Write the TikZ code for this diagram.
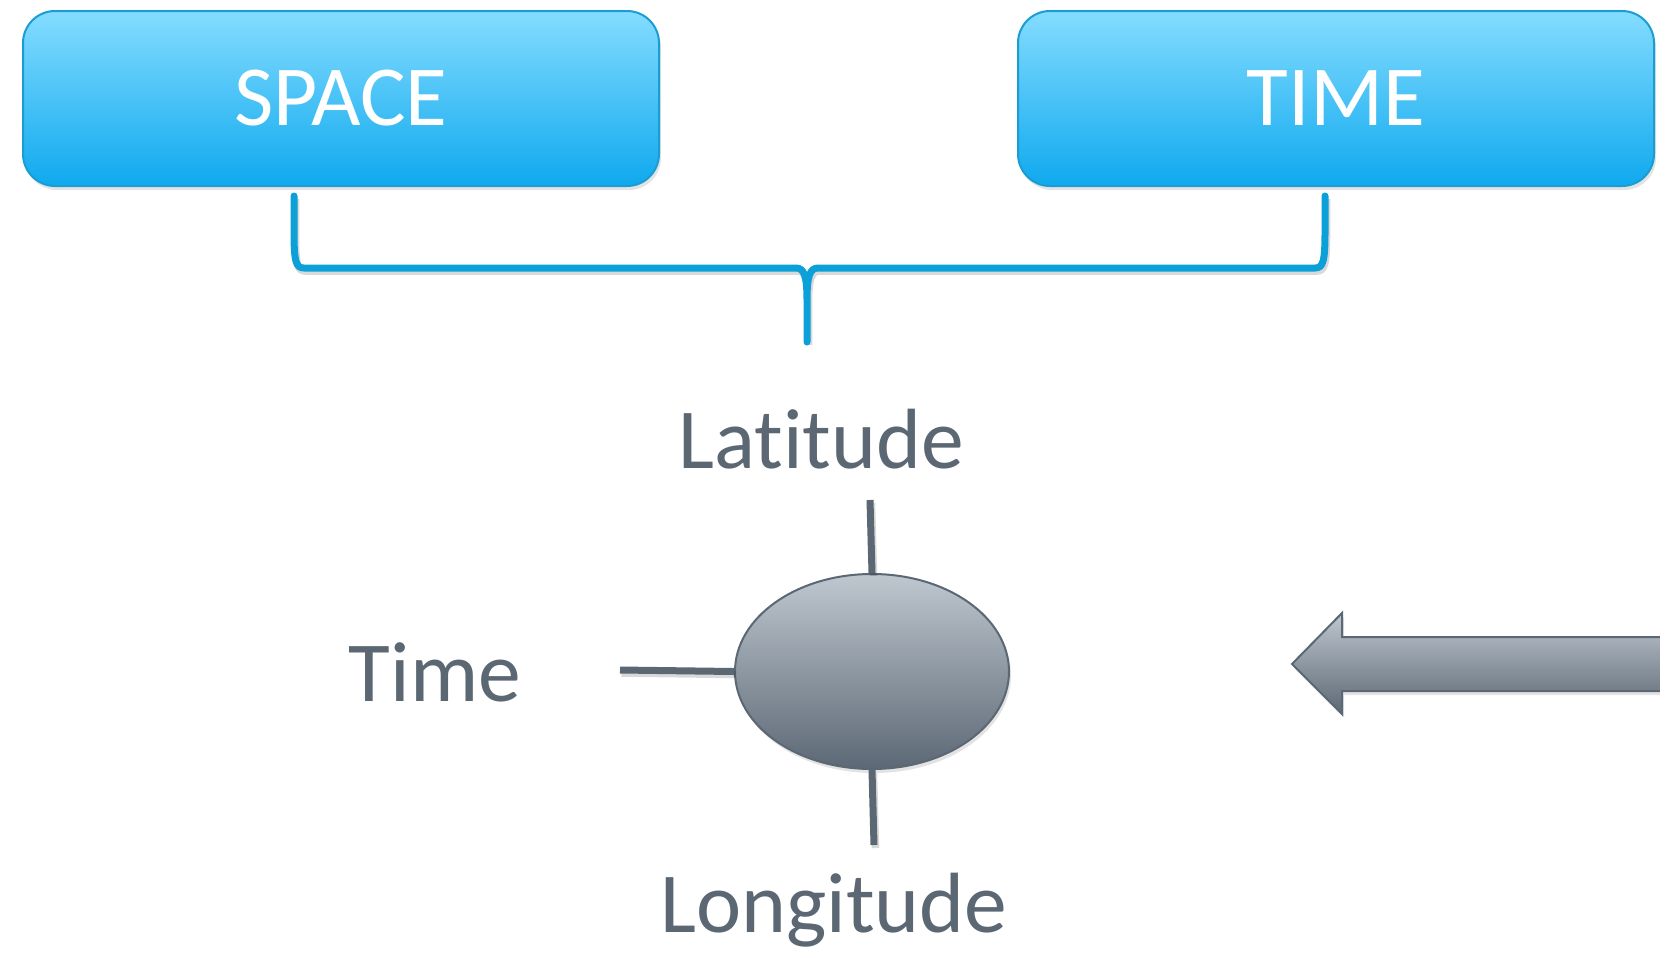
\documentclass[tikz,border=0pt]{standalone}
\usepackage{fontspec}
\setmainfont{Carlito}[Ligatures=NoCommon]
\usetikzlibrary{shapes.geometric,shadows}

\definecolor{boxtop}{HTML}{84DCFF}
\definecolor{boxbot}{HTML}{0FA9EE}
\definecolor{boxedge}{HTML}{1A9DD2}
\definecolor{bracecol}{HTML}{0CA0D8}
\definecolor{slate}{HTML}{5B6772}
\definecolor{globetop}{HTML}{BFC7CF}
\definecolor{globebot}{HTML}{5C6875}

\tikzset{
  softshadow/.style={drop shadow={opacity=0.22, shadow xshift=2pt, shadow yshift=-4pt}},
  lineshadow/.style={preaction={draw=black, draw opacity=0.15, line width=7.5pt,
      transform canvas={shift={(1.5pt,-3pt)}}}},
  headbox/.style={draw=boxedge, line width=2pt, rounded corners=32pt,
    top color=boxtop, bottom color=boxbot, minimum width=636pt, minimum height=175pt,
    text=white, font=\fontsize{85.5}{94}\selectfont, softshadow},
  axislabel/.style={text=slate, font=\fontsize{85.5}{94}\selectfont, anchor=base, inner sep=0pt},
  axisline/.style={draw=slate, line width=7pt, lineshadow},
  bracket/.style={draw=bracecol, line width=7pt, line cap=round, line join=round, lineshadow},
  globe/.style={ellipse, draw=slate, line width=2pt, top color=globetop, bottom color=globebot,
    minimum width=274pt, minimum height=195pt, softshadow},
}

\begin{document}
\begin{tikzpicture}[x=1pt, y=-1pt]
  \useasboundingbox (0,0) rectangle (1660,954);
  \clip (0,0) rectangle (1660,954);

  % category boxes
  \node[headbox] (space) at (341,98.5) {SPACE};
  \node[headbox] (time)  at (1336,98.5) {TIME};

  % curly bracket joining both boxes
  \coordinate (bl) at (294,196);
  \coordinate (br) at (1325,196);
  \coordinate (tip) at (807,342);
  \path[bracket]
    (bl) -- (294,232) .. controls (294,262) and (296,268) .. (304,268) -- (796,268)
    .. controls (804,268) and (807,276) .. (807,300) -- (tip)
    (br) -- (1325,232) .. controls (1325,262) and (1323,268) .. (1315,268) -- (818,268)
    .. controls (810,268) and (807,276) .. (807,300);

  % axis labels
  \node[axislabel] (lat)  at (821,468) {Latitude};
  \node[axislabel] (tlab) at (435,701) {Time};
  \node[axislabel] (lon)  at (834,932) {Longitude};

  % the point with its three axes
  \node[globe] (g) at (872,671.5) {};
  \coordinate (latend) at (870,500);
  \coordinate (timeend) at (620,670);
  \coordinate (lonend) at (874,845);
  \draw[axisline] (latend) -- (g.north);
  \draw[axisline] (timeend) -- (g.west);
  \draw[axisline] (g.south) -- (lonend);

  % incoming arrow from the right
  \path[draw=slate, line width=2pt, line join=miter, top color=globetop, bottom color=globebot,
        drop shadow={opacity=0.22, shadow xshift=2pt, shadow yshift=-4pt}]
    (1292,664) -- (1342,613) -- (1342,637) -- (1680,637) -- (1680,691)
    -- (1342,691) -- (1342,714) -- cycle;
\end{tikzpicture}
\end{document}
